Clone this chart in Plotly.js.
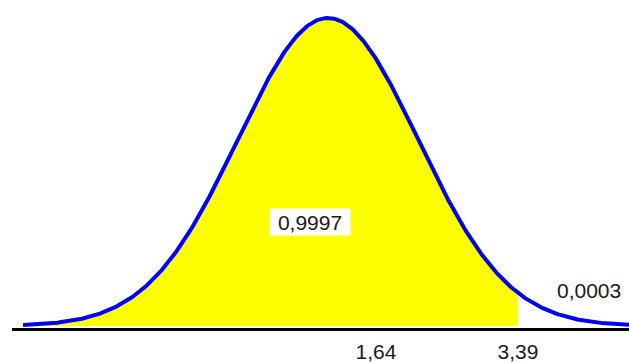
<!DOCTYPE html>
<html>
<head>
<meta charset="utf-8">
<script src="https://cdn.plot.ly/plotly-3.0.1.min.js"></script>
<style>
  html, body { margin: 0; padding: 0; background: #ffffff; }
  #chart { width: 629px; height: 363px; }
</style>
</head>
<body>
<div id="chart"></div>
<script>
// Normal distribution parameters
const mu = 1.048;
const sigma = 1.109;

// Marked values on the axis and their labels
const tickValues = [1.64, 3.39];
const tickLabels = ["1,64", "3,39"];

// Upper bound of the shaded region and the two areas
const cutoff = 3.39;
const areaLabels = ["0,9997", "0,0003"];

// Horizontal extent of the drawn curve
const curveStart = -2.71;
const curveEnd = 4.80;

function density(x) {
  const z = (x - mu) / sigma;
  return Math.exp(-0.5 * z * z) / (sigma * Math.sqrt(2 * Math.PI));
}

const steps = 500;
const xs = [], ys = [];
for (let i = 0; i <= steps; i++) {
  const x = curveStart + (curveEnd - curveStart) * i / steps;
  xs.push(x);
  ys.push(density(x));
}

// shaded area: from the left end of the curve up to the cutoff
const fx = [], fy = [];
for (let i = 0; i < xs.length && xs[i] <= cutoff; i++) {
  fx.push(xs[i]);
  fy.push(ys[i]);
}
fx.push(cutoff, cutoff);
fy.push(density(cutoff), 0);

const shaded = {
  x: fx, y: fy,
  type: "scatter", mode: "lines",
  fill: "tozeroy", fillcolor: "#ffff00",
  line: { width: 0, color: "rgba(0,0,0,0)" },
  hoverinfo: "skip"
};

const curve = {
  x: xs, y: ys,
  type: "scatter", mode: "lines",
  line: { color: "#0000ff", width: 4 },
  hoverinfo: "skip"
};

const peak = density(mu);

const layout = {
  width: 629, height: 363,
  margin: { l: 12, r: 0, t: 0, b: 35 },
  paper_bgcolor: "#ffffff",
  plot_bgcolor: "#ffffff",
  showlegend: false,
  font: { family: "Liberation Sans, Arial, sans-serif", size: 21, color: "#1a1a1a" },
  xaxis: {
    range: [-2.846, 4.758],
    showgrid: false, zeroline: false,
    showline: true, linecolor: "#000000", linewidth: 3,
    tickmode: "array", tickvals: tickValues, ticktext: tickLabels,
    ticks: "", ticklen: 0, ticklabelstandoff: 3,
    tickfont: { size: 21, color: "#1a1a1a" },
    fixedrange: true
  },
  yaxis: {
    range: [-peak * 2 / 308, peak * 326 / 308],
    visible: false, showgrid: false, zeroline: false,
    fixedrange: true
  },
  annotations: [
    {
      x: 0.83, y: peak * 0.338, xref: "x", yref: "y",
      text: areaLabels[0], showarrow: false,
      bgcolor: "#ffffff", borderpad: 1, width: 78, height: 24,
      font: { size: 21, color: "#1a1a1a" }
    },
    {
      x: 4.265, y: peak * 0.114, xref: "x", yref: "y",
      text: areaLabels[1], showarrow: false,
      font: { size: 21, color: "#1a1a1a" }
    }
  ]
};

Plotly.newPlot("chart", [shaded, curve], layout, { displayModeBar: false, staticPlot: true });
</script>
</body>
</html>
